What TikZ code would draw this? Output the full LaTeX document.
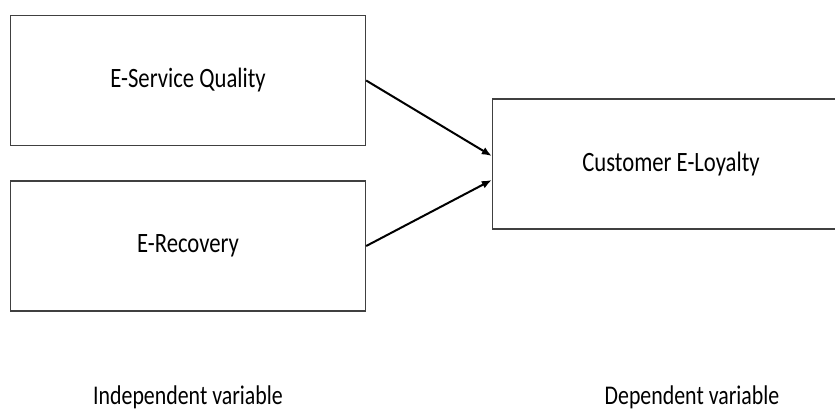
\documentclass[tikz,border=0pt]{standalone}
\usepackage{fontspec}
\setmainfont{Carlito}[FakeStretch=0.81]
\usetikzlibrary{arrows.meta}
\begin{document}
\begin{tikzpicture}[x=1pt,y=-1pt,
  varbox/.style={draw=black!75,line width=1.4pt,minimum width=355pt,minimum height=130pt,inner sep=0pt,
    font=\fontsize{28}{32}\selectfont,text=black},
  link/.style={line width=2pt,-{Latex[length=10pt,width=8pt]}},
  caption/.style={anchor=base,font=\fontsize{27}{32}\selectfont,text=black}]
\useasboundingbox (0,0) rectangle (835,412);
\node[varbox] (esq) at (188,80.5) {E-Service Quality};
\node[varbox] (erec) at (188,246) {E-Recovery};
\node[varbox,minimum width=357pt] (cel) at (671,164) {Customer E-Loyalty};
\draw[link] (esq.east) -- ([yshift=8pt]cel.west);
\draw[link] (erec.east) -- ([yshift=-16pt]cel.west);
\node[caption] (ind) at (188,404) {Independent variable};
\node[caption] (dep) at (692,404) {Dependent variable};
\end{tikzpicture}
\end{document}
